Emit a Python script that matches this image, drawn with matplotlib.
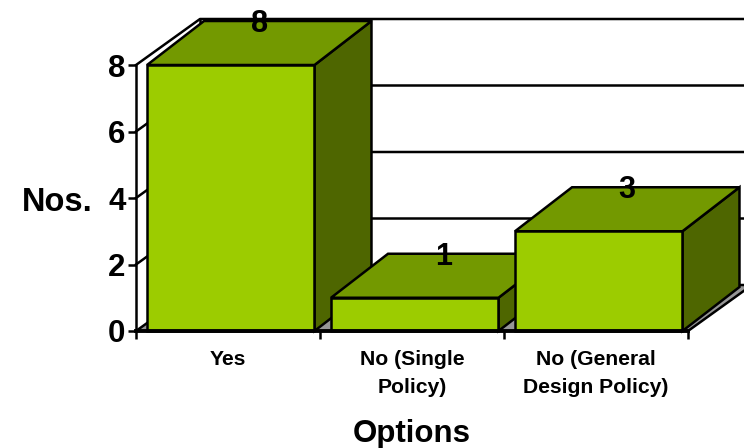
import matplotlib
matplotlib.use('Agg')
import matplotlib.pyplot as plt
from matplotlib.patches import Polygon

plt.rcParams['font.family'] = ['Liberation Sans', 'DejaVu Sans']
plt.rcParams['font.weight'] = 'bold'

categories = ['Yes', 'No (Single\nPolicy)', 'No (General\nDesign Policy)']
values = [8, 1, 3]
y_ticks = [0, 2, 4, 6, 8]

FRONT = '#9ccc00'
TOP = '#739900'
SIDE = '#4e6600'
FLOOR = '#969696'

W, H = 744, 448
fig = plt.figure(figsize=(W / 100, H / 100), dpi=100)
ax = fig.add_axes([136 / W, 1 - 331 / H, (W - 136) / W, (331 - 65) / H])

# one category is 184 px wide, one y unit 33.25 px
ax.set_xlim(0, (W - 136) / 184)
ax.set_ylim(0, 8)

# fake 3d depth, in data units
wall_dx, wall_dy = 64 / 184, 46 / 33.25
bar_dx, bar_dy = 57 / 184, 44 / 33.25
bar_left = 0.06
bar_w = 0.91
lw = 1.8

n = len(categories)
ax.add_patch(Polygon([(0, 0), (n, 0), (n + wall_dx, wall_dy), (wall_dx, wall_dy)],
                     closed=True, fc=FLOOR, ec='none', clip_on=False, zorder=1))
ax.plot([n, n + wall_dx], [0, wall_dy], color='black', lw=lw, clip_on=False, zorder=1.5)

# gridlines on the back wall and the slanted bits on the side wall
for t in y_ticks:
    ax.plot([0, wall_dx, n + wall_dx], [t, t + wall_dy, t + wall_dy],
            color='black', lw=lw, clip_on=False, zorder=1.5)
ax.plot([wall_dx, wall_dx], [wall_dy, 8 + wall_dy], color='black', lw=lw, clip_on=False, zorder=1.5)

# bars, left to right so each one overlaps the previous
for i, v in enumerate(values):
    x0 = i + bar_left
    x1 = x0 + bar_w
    z = 2 + i
    ax.add_patch(Polygon([(x1, 0), (x1 + bar_dx, bar_dy), (x1 + bar_dx, v + bar_dy), (x1, v)],
                         closed=True, fc=SIDE, ec='black', lw=lw, clip_on=False, zorder=z))
    ax.add_patch(Polygon([(x0, v), (x1, v), (x1 + bar_dx, v + bar_dy), (x0 + bar_dx, v + bar_dy)],
                         closed=True, fc=TOP, ec='black', lw=lw, clip_on=False, zorder=z))
    ax.bar(x0, v, width=bar_w, align='edge', color=FRONT, edgecolor='black', lw=lw,
           clip_on=False, zorder=z)
    # value sits on the back edge of the top face
    ax.annotate(str(v), (x0 + bar_w / 2 + bar_dx / 2, v + bar_dy), xytext=(0, -2),
                textcoords='offset points', ha='center', va='center',
                fontsize=22, annotation_clip=False, zorder=10)

ax.spines['top'].set_visible(False)
ax.spines['right'].set_visible(False)
ax.spines['left'].set_linewidth(lw)
ax.spines['bottom'].set_linewidth(2.8)
ax.spines['left'].set_zorder(8)
ax.spines['bottom'].set_zorder(8)
ax.spines['bottom'].set_bounds(0, n)

ax.set_yticks(y_ticks)
ax.tick_params(axis='y', length=5.5, width=lw, labelsize=22.5, pad=2)
ax.set_xticks(range(n + 1))
ax.set_xticklabels([])
ax.tick_params(axis='x', which='major', length=5.5, width=lw)
ax.set_xticks([i + 0.5 for i in range(n)], minor=True)
ax.set_xticklabels(categories, minor=True, fontsize=15.2, linespacing=1.62)
ax.tick_params(axis='x', which='minor', length=0, pad=13.5)

fig.text(57 / W, 1 - 202 / H, 'Nos.', ha='center', va='center', fontsize=23.5)
fig.text(412 / W, 1 - 434 / H, 'Options', ha='center', va='center', fontsize=22.5)

fig.savefig('out.png', dpi=100)
